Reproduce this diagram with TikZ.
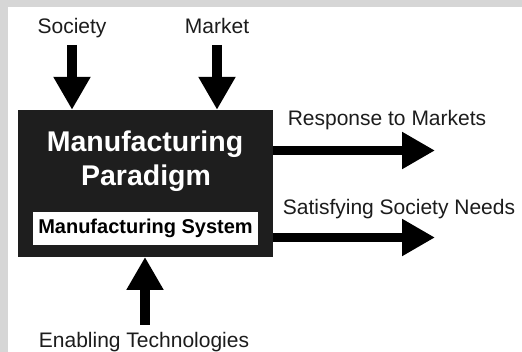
\documentclass[tikz,border=0pt]{standalone}
\usepackage{fontspec}
\setmainfont{Liberation Sans}
\usepackage{xcolor}
\usetikzlibrary{arrows.meta, positioning, calc}

\definecolor{boxfill}{HTML}{1E1E1E}
\definecolor{textgray}{HTML}{1C1C1C}
\definecolor{framegray}{HTML}{D6D6D6}

\tikzset{
	bigarrow/.style={line width=9.5pt, draw=black, -{Triangle[length=33pt, width=35pt]}},
	plainlabel/.style={text=textgray, font=\fontsize{21}{25}\selectfont, inner sep=0pt, anchor=base},
	titleline/.style={text=white, font=\bfseries\fontsize{28.5}{33}\selectfont, inner sep=0pt, anchor=base},
}

\begin{document}
\begin{tikzpicture}[x=1pt, y=-1pt]
				  \useasboundingbox (0,0) rectangle (522,352);
				  \fill[white] (0,0) rectangle (522,352);
				  \fill[framegray] (0,0) rectangle (522,7);
				  \fill[framegray] (0,0) rectangle (8,352);
				  % the paradigm block
				  \node[fill=boxfill, minimum width=255pt, minimum height=147pt, inner sep=0pt] (paradigm) at (145.5,183.5) {};
				  \node[titleline] (title) at (145,152) {Manufacturing};
				  \node[titleline] (subtitle) at (146,186) {Paradigm};
				  \node[fill=white, minimum width=225pt, minimum height=33pt, inner sep=0pt, font=\bfseries\fontsize{20}{24}\selectfont] (system) at (145.5,228.5) {Manufacturing System};
				  % inputs
				  \node[plainlabel] (society) at (72,34) {Society};
				  \node[plainlabel] (market) at (217,34) {Market};
				  \node[plainlabel] (enabling) at (144,348) {Enabling Technologies};
				  \draw[bigarrow] (72,45) -- (society.south |- paradigm.north);
				  \draw[bigarrow] (217,45) -- (market.south |- paradigm.north);
				  \draw[bigarrow] (145,325) -- (145,257);
				  % outputs
				  \coordinate (resp) at (435,150.5);
				  \coordinate (needs) at (435,237.5);
				  \node[plainlabel] (resplabel) at (387,126) {Response to Markets};
				  \node[plainlabel] (needslabel) at (399,215) {Satisfying Society Needs};
				  \draw[bigarrow] (paradigm.east |- resp) -- (resp);
				  \draw[bigarrow] (paradigm.east |- needs) -- (needs);
\end{tikzpicture}
\end{document}
